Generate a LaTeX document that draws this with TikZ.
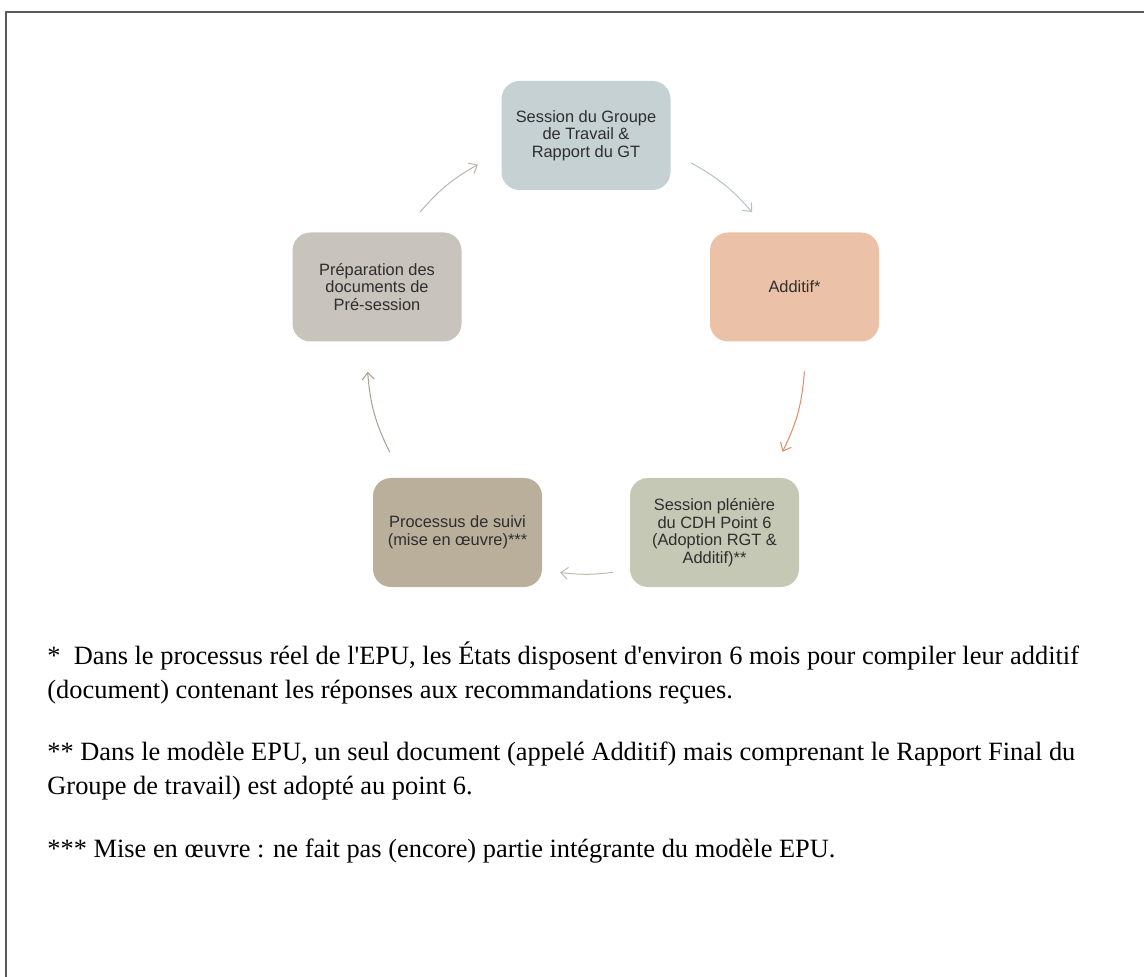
\documentclass[tikz,border=0pt]{standalone}
\usepackage{fontspec}
\setmainfont{Liberation Serif}
\setsansfont{Liberation Sans}
\usetikzlibrary{arrows.meta,calc}
\definecolor{gtfond}{HTML}{C6D1D4}
\definecolor{addfond}{HTML}{EBC1A8}
\definecolor{prepfond}{HTML}{C8C3BC}
\definecolor{suivifond}{HTML}{B9AF9B}
\definecolor{plenfond}{HTML}{C5C8B5}
\definecolor{gtfl}{HTML}{B2C3C9}
\definecolor{addfl}{HTML}{E08B63}
\definecolor{prepfl}{HTML}{BDB5AC}
\definecolor{suivifl}{HTML}{A89F8C}
\definecolor{plenfl}{HTML}{BCBFA8}
\definecolor{texte}{HTML}{2E2E2E}
\newcommand{\apos}{\textquotesingle}
\begin{document}
\begin{tikzpicture}[x=0.5pt,y=0.5pt,line cap=round,line join=round,>={Straight Barb[length=3.5pt,width=6pt]},
  etape/.style={rounded corners=9pt,minimum width=84.5pt,minimum height=54.5pt,inner sep=0pt,align=center,text=texte,font=\sffamily\fontsize{8.2}{8.75}\selectfont},
  fleche/.style={->,line width=0.5pt},
  note/.style={anchor=north west,inner sep=0pt,align=left,font=\fontsize{13.2}{17}\selectfont}]
\useasboundingbox (0,0) rectangle (1144,-977);
\draw[line width=1pt,color=black!65] (6,-977) -- (6,-12) -- (1144,-12);
\node[etape,fill=gtfond] (gt) at (586,-135.5) {Session du Groupe\\de Travail \&\\Rapport du GT};
\node[etape,fill=addfond] (add) at (794.5,-287) {Additif*};
\node[etape,fill=plenfond] (plen) at (714.5,-532.5) {Session plénière\\du CDH Point 6\\(Adoption RGT \&\\Additif)**};
\node[etape,fill=suivifond] (suivi) at (457.5,-532.5) {Processus de suivi\\(mise en œuvre)***};
\node[etape,fill=prepfond] (prep) at (377,-287) {Préparation des\\documents de\\Pré-session};
\coordinate (c) at (586,-355);
\coordinate (prepA) at ($(c)+(139.3:219)$);
\coordinate (gtB) at ($(c)+(119.6:219)$);
\coordinate (gtA) at ($(c)+(61.2:219)$);
\coordinate (addB) at ($(c)+(40.7:219)$);
\coordinate (addA) at ($(c)+(-4.4:219)$);
\coordinate (plenB) at ($(c)+(-26.2:219)$);
\coordinate (plenA) at ($(c)+(-83:219)$);
\coordinate (suiviB) at ($(c)+(-96.8:219)$);
\coordinate (suiviA) at ($(c)+(-153.7:219)$);
\coordinate (prepB) at ($(c)+(-175.6:219)$);
\draw[fleche,color=prepfl] (prepA) to[bend left=10] (gtB);
\draw[fleche,color=gtfl] (gtA) to[bend left=10] (addB);
\draw[fleche,color=addfl] (addA) to[bend left=11] (plenB);
\draw[fleche,color=plenfl] (plenA) to[bend left=7] (suiviB);
\draw[fleche,color=suivifl] (suiviA) to[bend left=11] (prepB);
\node[note] (n1) at (47,-641) {*\ \ Dans le processus réel de l\apos EPU, les États disposent d\apos environ 6 mois pour compiler leur additif\\(document) contenant les réponses aux recommandations reçues.};
\node[note] (n2) at (47,-742) {** Dans le modèle EPU, un seul document (appelé Additif) mais comprenant le Rapport Final du\\Groupe de travail) est adopté au point 6.};
\node[note] (n3) at (47,-839) {*** Mise en œuvre : ne fait pas (encore) partie intégrante du modèle EPU.};
\end{tikzpicture}
\end{document}
